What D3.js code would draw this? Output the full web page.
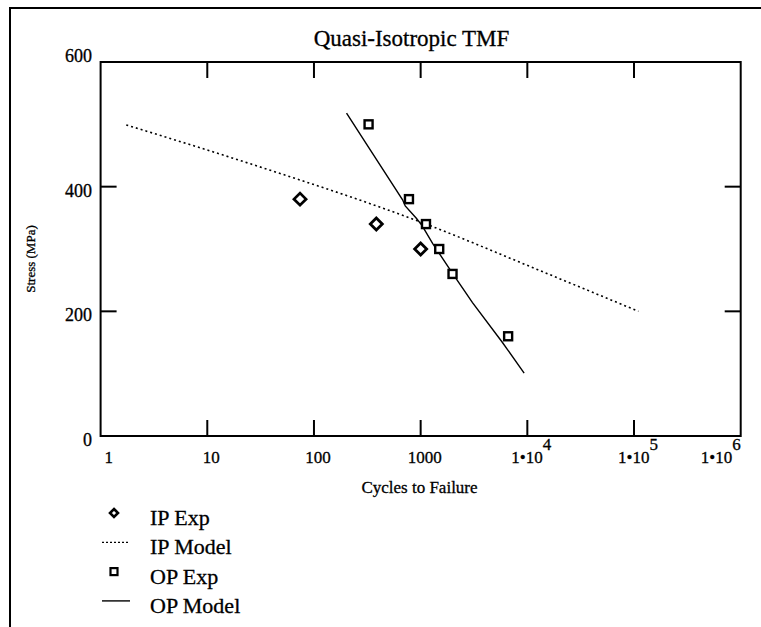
<!DOCTYPE html>
<html>
<head>
<meta charset="utf-8">
<script src="https://cdn.jsdelivr.net/npm/d3@7"></script>
<style>
  body { margin: 0; background: #fff; }
  text { font-family: "Liberation Serif", "Times New Roman", serif; fill: #000; stroke: #000; stroke-width: 0.3px; }
</style>
</head>
<body>
<svg width="761" height="627"></svg>
<script>
let svg = d3.select("svg");

// data
let ipExpN = [74, 384, 1000];
let ipExpS = [380, 340, 300];
let opExpN = [325, 777, 1122, 1493, 1990, 6607];
let opExpS = [500, 380, 340, 300, 260, 160];
let ipModelN = [1.74, 25, 1122, 12450, 110000];
let ipModelS = [499, 437, 340, 267, 200];
let opModelN = [202, 286, 677, 717, 915, 1028, 1294, 1493, 1990, 3062, 5848, 9333];
let opModelS = [518, 478, 379, 369, 349, 338, 309, 293, 261, 214, 150, 101];
let xTicks = [1, 10, 100, 1000, 1e4, 1e5, 1e6];
let yTicks = [0, 200, 400, 600];
let legendNames = ["IP Exp", "IP Model", "OP Exp", "OP Model"];

let x = d3.scaleLog().domain([1, 1e6]).range([100.6, 740.7]);
let y = d3.scaleLinear().domain([0, 600]).range([436, 62]);

// outer frame (left + top only)
svg.append("path")
    .attr("d", "M10,627V8H761")
    .attr("fill", "none").attr("stroke", "#000").attr("stroke-width", 2);

// plot box
svg.append("rect")
    .attr("x", x.range()[0]).attr("y", y.range()[1])
    .attr("width", x.range()[1] - x.range()[0])
    .attr("height", y.range()[0] - y.range()[1])
    .attr("fill", "none").attr("stroke", "#000").attr("stroke-width", 2);

// inward ticks
let tl = 16;
let ticks = svg.append("g").attr("stroke", "#000").attr("stroke-width", 2);
xTicks.slice(1, -1).forEach(t => {
    ticks.append("line").attr("x1", x(t)).attr("x2", x(t)).attr("y1", y(0)).attr("y2", y(0) - tl);
    ticks.append("line").attr("x1", x(t)).attr("x2", x(t)).attr("y1", y(600)).attr("y2", y(600) + tl);
});
yTicks.slice(1, -1).forEach(t => {
    ticks.append("line").attr("x1", x(1)).attr("x2", x(1) + tl).attr("y1", y(t)).attr("y2", y(t));
    ticks.append("line").attr("x1", x(1e6)).attr("x2", x(1e6) - tl).attr("y1", y(t)).attr("y2", y(t));
});

// x tick labels
xTicks.forEach(t => {
    let g = svg.append("text")
        .attr("x", x(t) + 4).attr("y", 463)
        .attr("text-anchor", "middle")
        .style("font-size", "17px");
    if (t < 1e4) {
        g.text(t);
    } else {
        g.append("tspan").text("1\u202210");
        g.append("tspan").attr("dy", -13).text(Math.round(Math.log10(t)));
    }
    let b = g.node().getBBox();
    if (b.x < x(1) + 4) g.attr("x", +g.attr("x") + (x(1) + 4 - b.x));
    if (b.x + b.width > x(1e6)) g.attr("x", +g.attr("x") - (b.x + b.width - x(1e6)));
});

// y tick labels
yTicks.forEach(t => {
    svg.append("text")
        .attr("x", 92).attr("y", y(t) + (t === 600 ? 0 : 10))
        .attr("text-anchor", "end")
        .style("font-size", "18px")
        .text(t);
});

// titles
svg.append("text").attr("x", 411.5).attr("y", 46)
    .attr("text-anchor", "middle").style("font-size", "23px")
    .text("Quasi-Isotropic TMF");
svg.append("text").attr("x", 419.5).attr("y", 493)
    .attr("text-anchor", "middle").style("font-size", "17px")
    .text("Cycles to Failure");
svg.append("text")
    .attr("transform", "translate(35,259) rotate(-90)")
    .attr("text-anchor", "middle").style("font-size", "13px")
    .text("Stress (MPa)");

// model lines
let line = d3.line().x(d => x(d[0])).y(d => y(d[1]));

svg.append("path")
    .datum(d3.zip(ipModelN, ipModelS))
    .attr("d", line.curve(d3.curveMonotoneX))
    .attr("fill", "none").attr("stroke", "#000")
    .attr("stroke-width", 1.6).attr("stroke-dasharray", "2,3");

svg.append("path")
    .datum(d3.zip(opModelN, opModelS))
    .attr("d", line.curve(d3.curveLinear))
    .attr("fill", "none").attr("stroke", "#000").attr("stroke-width", 1.4);

// markers
let diamond = (cx, cy, r) => `M${cx},${cy - r}L${cx + r},${cy}L${cx},${cy + r}L${cx - r},${cy}Z`;

svg.append("g").selectAll("path")
    .data(d3.zip(ipExpN, ipExpS))
    .enter().append("path")
        .attr("d", d => diamond(x(d[0]), y(d[1]), 6))
        .attr("fill", "#fff").attr("stroke", "#000").attr("stroke-width", 2.8);

svg.append("g").selectAll("rect")
    .data(d3.zip(opExpN, opExpS))
    .enter().append("rect")
        .attr("x", d => x(d[0]) - 4).attr("y", d => y(d[1]) - 4)
        .attr("width", 8).attr("height", 8)
        .attr("fill", "#fff").attr("stroke", "#000").attr("stroke-width", 2.4);

// legend
let ly = 525, ls = 29.3;
let leg = svg.append("g");
leg.append("path").attr("d", diamond(114, ly - 12, 4))
    .attr("fill", "#fff").attr("stroke", "#000").attr("stroke-width", 2.6);
leg.append("line").attr("x1", 102).attr("x2", 130).attr("y1", ly + ls - 12).attr("y2", ly + ls - 12)
    .attr("stroke", "#000").attr("stroke-width", 1.2).attr("stroke-dasharray", "2,2");
leg.append("rect").attr("x", 110.5).attr("y", ly + 2 * ls - 15.5).attr("width", 7).attr("height", 7)
    .attr("fill", "#fff").attr("stroke", "#000").attr("stroke-width", 2.2);
leg.append("line").attr("x1", 102).attr("x2", 130).attr("y1", ly + 3 * ls - 12).attr("y2", ly + 3 * ls - 12)
    .attr("stroke", "#000").attr("stroke-width", 1.4);

leg.selectAll("text")
    .data(legendNames)
    .enter().append("text")
        .attr("x", 150).attr("y", (d, i) => ly + i * ls)
        .style("font-size", "22px")
        .text(d => d);
</script>
</body>
</html>
